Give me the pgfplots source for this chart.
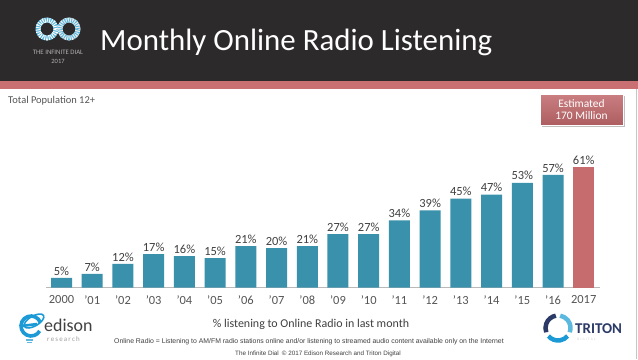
\documentclass[border=0pt]{standalone}
\usepackage{pgfplots}
\pgfplotsset{compat=1.18}
\usepackage{fontspec}
\setmainfont{Carlito}
\newfontfamily\arialfont{Liberation Sans}
\definecolor{hdr}{HTML}{2D2A2B}
\definecolor{stripe}{HTML}{C97172}
\definecolor{barblue}{HTML}{3A91AC}
\definecolor{barpink}{HTML}{C66B6E}
\definecolor{txt}{HTML}{404040}
\definecolor{lighttxt}{HTML}{555555}
\definecolor{edblue}{HTML}{1C9AD6}
\definecolor{trnavy}{HTML}{2B3A67}
\definecolor{trlight}{HTML}{5BB8DE}
\definecolor{estbox}{HTML}{C1686B}
\begin{document}
\begin{tikzpicture}
\begin{scope}[x=1bp,y=1bp]
\path[use as bounding box] (0,0) rectangle (638,359);
\fill[white] (0,0) rectangle (638,359);
\fill[hdr] (0,278) rectangle (638,359);
\fill[stripe] (0,270) rectangle (638,278);
\draw[gray!45, line width=0.8] (636.5,0) -- (636.5,270);
% title
\node[anchor=base west, text=white, font=\fontsize{31}{31}\selectfont, inner sep=0] at (100,309) {Monthly Online Radio Listening};
% infinite dial logo
\draw[line width=5, trlight] (47,330) circle (9);
\draw[line width=5, white, dash pattern=on 0.9 off 1.3] (47,330) circle (9);
\draw[line width=5, white!85!gray] (69,330) circle (9);
\draw[line width=5, trlight, dash pattern=on 0.9 off 1.3] (69,330) circle (9);
\node[text=gray!60, font=\fontsize{6.8}{7}\selectfont, inner sep=0] at (58,307) {THE INFINITE DIAL};
\node[text=gray!60, font=\fontsize{6.5}{7}\selectfont, inner sep=0] at (58,298) {2017};
% subtitle
\node[anchor=base west, text=lighttxt, font=\fontsize{10.5}{11}\selectfont, inner sep=0] at (8,256) {Total Population 12+};
% estimated box
\fill[black!25] (542,232) rectangle (625,263);
\shade[top color=estbox!85!white, bottom color=estbox!90!black, draw=white, line width=0.8] (540,234) rectangle (623,265);
\node[text=white, align=center, font=\fontsize{11.5}{12.5}\selectfont, inner sep=0] at (581.5,249.5) {Estimated\\170 Million};
% bottom texts
\node[text=txt, font=\fontsize{12}{12}\selectfont, inner sep=0, anchor=base] at (311,32) {\% listening to Online Radio in last month};
\node[text=txt, font=\arialfont\fontsize{6.9}{7}\selectfont, inner sep=0, anchor=base] at (309,16) {Online Radio = Listening to AM/FM radio stations online and/or listening to streamed audio content available only on the Internet};
\node[text=txt, font=\arialfont\fontsize{6.3}{7}\selectfont, inner sep=0, anchor=base] at (318,4) {The Infinite Dial\enspace\textcopyright{} 2017 Edison Research and Triton Digital};
% edison logo
\draw[edblue, line width=3.6] (31,33) ++(20:10) arc (20:330:10);
\draw[edblue, line width=2.6] (22,33) -- (37,35);
\draw[edblue, line width=1.6, rotate around={30:(34,38)}] (34,38) ellipse (11 and 5);
\draw[edblue!70, line width=1.2] (26,19) -- (33,19) (27,16.5) -- (32,16.5);
\node[anchor=base west, text=txt, font=\fontsize{18}{18}\selectfont, inner sep=0] at (44,28) {edison};
\node[anchor=base west, text=gray!75, font=\fontsize{7}{7}\selectfont, inner sep=0] at (47,18) {r\,e\,s\,e\,a\,r\,c\,h};
% triton logo
\draw[trnavy, line width=4.5] (558,31) ++(100:12.5) arc (100:200:12.5);
\draw[edblue, line width=4.5] (558,31) ++(220:12.5) arc (220:320:12.5);
\draw[trlight, line width=4.5] (558,31) ++(340:12.5) arc (340:440:12.5);
\node[anchor=base west, text=trnavy, font=\bfseries\fontsize{15}{15}\selectfont, inner sep=0] at (575,26) {TRITON};
\node[anchor=base west, text=gray!35, font=\fontsize{3.5}{4}\selectfont, inner sep=0] at (577,19) {D\,\,I\,\,G\,\,I\,\,T\,\,A\,\,L};
\end{scope}
\begin{axis}[
  at={(46bp,71.3bp)}, anchor=south west, scale only axis,
  width=554bp, height=138.6bp,
  xmin=-0.505, xmax=17.53, ymin=0, ymax=70,
  axis y line=none, axis x line*=bottom,
  x axis line style={-, draw=gray!55, line width=0.8pt},
  xtick={0,...,17},
  xticklabels={2000,'01,'02,'03,'04,'05,'06,'07,'08,'09,'10,'11,'12,'13,'14,'15,'16,2017},
  major tick length=0pt,
  xticklabel style={font=\fontsize{12.5}{12.5}\selectfont, text=lighttxt, yshift=-4bp},
  ybar, bar width=21bp, bar shift=0pt,
  point meta=y,
  nodes near coords={\pgfmathprintnumber{\pgfplotspointmeta}\%},
  nodes near coords style={font=\fontsize{12.5}{12.5}\selectfont, text=txt, inner sep=2.5bp},
  /pgf/number format/assume math mode=true,
  clip=false,
]
\addplot[fill=barblue, draw=none] coordinates {(0,5) (1,7) (2,12) (3,17) (4,16) (5,15) (6,21) (7,20) (8,21) (9,27) (10,27) (11,34) (12,39) (13,45) (14,47) (15,53) (16,57)};
\addplot[fill=barpink, draw=none] coordinates {(17,61)};
\end{axis}
\end{tikzpicture}
\end{document}
